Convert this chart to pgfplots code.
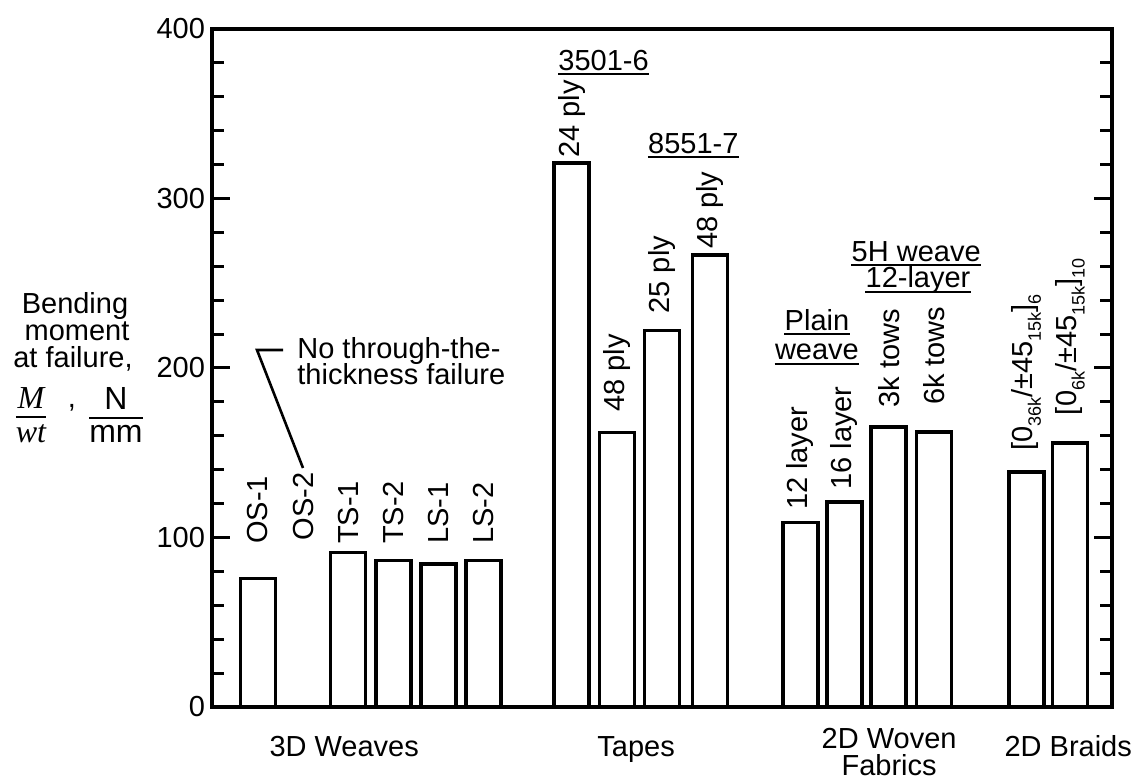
\documentclass[border=0pt]{standalone}
\usepackage{amsmath}
\usepackage{fontspec}
\setmainfont{Liberation Sans}
\newfontfamily\timesf{Liberation Serif}
\usepackage{pgfplots}
\pgfplotsset{compat=1.18}
\newcommand\lbl{\fontsize{14.5}{15}\selectfont}
\newcommand\frc{\fontsize{16}{17}\selectfont}
\newcommand\sub[1]{\raisebox{-0.28em}{\fontsize{9}{10}\selectfont #1}}
\begin{document}
\begin{tikzpicture}[x=1pt,y=1pt]
% 1 px of the reference = 0.5 pt ; axis box from (212,707) to (1112,29) px
\useasboundingbox (-106,-36) rectangle (461,353.5);
\begin{axis}[
  at={(0,0)}, anchor=south west,
  scale only axis, width=450pt, height=339pt,
  xmin=-1.02, xmax=18.93, ymin=0, ymax=400,
  xtick=\empty,
  ytick={0,100,200,300,400},
  minor ytick={20,40,60,80,120,140,160,180,220,240,260,280,320,340,360,380},
  yticklabel pos=left,
  tick align=inside,
  major tick length=9pt, minor tick length=6pt,
  every tick/.style={line width=1.5pt, black},
  axis line style={line width=1.9pt},
  tick label style={font=\lbl},
  /pgf/number format/assume math mode=true,
  clip=false,
]
\addplot[ybar, bar width=17.5pt, draw=black, fill=white, line width=1.75pt]
  coordinates {(0,75.7) (2,91) (3,86.3) (4,84.5) (5,86.3)
               (6.95,321) (7.96,162) (8.95,222) (10.02,266.6)
               (12.02,108.7) (13,121) (13.98,165.2) (14.98,162.3)
               (17.03,138.7) (18.0,155.8)};
% bar labels
\tikzset{bl/.style={rotate=90, anchor=west, inner sep=0pt, font=\lbl}}
\node[bl] at (axis cs:0,96) {OS-1};
\node[bl] at (axis cs:1,98) {OS-2};
\node[bl] at (axis cs:2,96) {TS-1};
\node[bl] at (axis cs:3,96) {TS-2};
\node[bl] at (axis cs:4,96) {LS-1};
\node[bl] at (axis cs:5,96) {LS-2};
\node[bl] at (axis cs:6.95,324) {24 ply};
\node[bl] at (axis cs:7.96,174) {48 ply};
\node[bl] at (axis cs:8.95,232) {25 ply};
\node[bl] at (axis cs:10.02,270) {48 ply};
\node[bl] at (axis cs:12.02,116) {12 layer};
\node[bl] at (axis cs:13,128) {16 layer};
\node[bl] at (axis cs:13.98,176.5) {3k tows};
\node[bl] at (axis cs:14.98,178) {6k tows};
\node[bl] at (axis cs:17.03,151) {[0\sub{36k}/±45\sub{15k}]\sub{6}};
\node[bl] at (axis cs:18.0,172) {[0\sub{6k}/±45\sub{15k}]\sub{10}};
% underlined headers
\tikzset{hd/.style={anchor=base, inner sep=0pt, font=\lbl}}
\node[hd] (h1) at (axis cs:7.66,375.6) {3501-6};
\node[hd] (h2) at (axis cs:9.65,326.7) {8551-7};
\node[hd] (h3) at (axis cs:12.39,222.4) {Plain};
\node[hd] (h4) at (axis cs:12.39,204.8) {weave};
\node[hd] (h5) at (axis cs:14.59,263.1) {5H weave};
\node[hd] (h6) at (axis cs:14.63,247.2) {12-layer};
\draw[line width=1pt] ([yshift=-2pt]h1.base west) -- ([yshift=-2pt]h1.base east);
\draw[line width=1pt] ([yshift=-2pt]h2.base west) -- ([yshift=-2pt]h2.base east);
\draw[line width=1pt] ([yshift=-2pt]h3.base west) -- ([yshift=-2pt]h3.base east);
\draw[line width=1pt] ([yshift=-2pt]h4.base west) -- ([yshift=-2pt]h4.base east);
\draw[line width=1pt] ([yshift=-2pt]h5.base west) -- ([yshift=-2pt]h5.base east);
\draw[line width=1pt] ([yshift=-2pt]h6.base west) -- ([yshift=-2pt]h6.base east);
% group names
\tikzset{gn/.style={anchor=base, inner sep=0pt, font=\lbl}}
\node[gn] at (axis cs:1.91,-29.2) {3D Weaves};
\node[gn] at (axis cs:8.38,-29.2) {Tapes};
\node[gn] at (axis cs:13.99,-24.5) {2D Woven};
\node[gn] at (axis cs:13.99,-40.5) {Fabrics};
\node[gn] at (axis cs:17.96,-29.2) {2D Braids};
\end{axis}
% annotation
\node[anchor=base west, inner sep=0pt, font=\lbl] at (42.5,174) {No through-the-};
\node[anchor=base west, inner sep=0pt, font=\lbl] at (42.5,161) {thickness failure};
\draw[line width=1.3pt] (35.5,178.5) -- (22.5,178.5) -- (45.5,119.5);
% y label
\node[anchor=base, inner sep=0pt, font=\lbl] at (-68.5,196.8) {Bending};
\node[anchor=base, inner sep=0pt, font=\lbl] at (-67.5,183.2) {moment};
\node[anchor=base, inner sep=0pt, font=\lbl] at (-69.5,169.6) {at failure,};
\node[inner sep=0pt] at (-90.5,146) {$\genfrac{}{}{1pt}{0}{\mbox{\timesf\itshape\frc M}}{\mbox{\timesf\itshape\frc wt}}$};
\node[anchor=base, inner sep=0pt, font=\lbl] at (-70,149.5) {,};
\node[inner sep=0pt] at (-48,146) {$\genfrac{}{}{1pt}{0}{\mbox{\frc N}}{\mbox{\frc mm}}$};
\end{tikzpicture}
\end{document}
